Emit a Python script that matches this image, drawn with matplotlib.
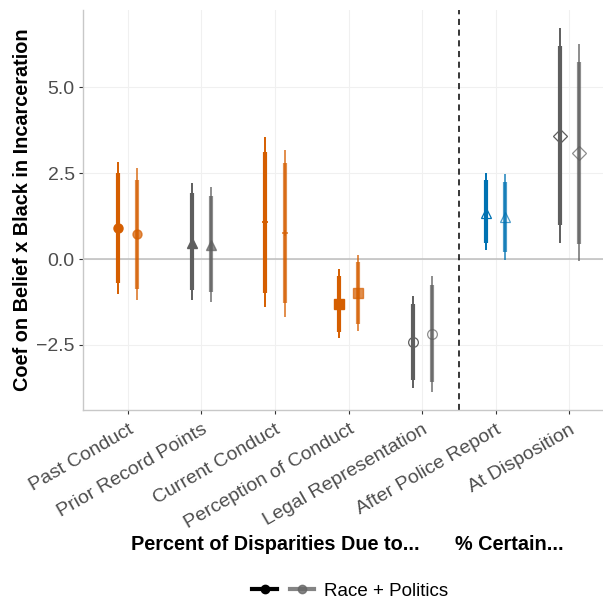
import numpy as np
import matplotlib.pyplot as plt
from matplotlib.lines import Line2D

plt.rcParams['font.family'] = ['Liberation Sans', 'DejaVu Sans']

# data
categories = ["Past Conduct", "Prior Record Points", "Current Conduct",
              "Perception of Conduct", "Legal Representation",
              "After Police Report", "At Disposition"]
base_colors = ["#D55E00", "#5E5E5E", "#D55E00", "#D55E00", "#5E5E5E",
               "#0072B2", "#5E5E5E"]
markers = ["o", "^", "+", "s", "o", "^", "D"]
filled = [True, True, True, True, False, False, False]

# left series (Race)
est_a = [0.91, 0.47, 1.08, -1.31, -2.41, 1.34, 3.58]
lo90_a = [-0.70, -0.90, -0.99, -2.12, -3.52, 0.47, 0.99]
hi90_a = [2.50, 1.92, 3.11, -0.49, -1.31, 2.30, 6.19]
lo95_a = [-1.02, -1.19, -1.40, -2.30, -3.75, 0.26, 0.47]
hi95_a = [2.82, 2.20, 3.55, -0.29, -1.08, 2.50, 6.72]

# right series (Race + Politics)
est_b = [0.73, 0.41, 0.76, -0.99, -2.18, 1.22, 3.08]
lo90_b = [-0.87, -0.96, -1.28, -1.89, -3.58, 0.20, 0.44]
hi90_b = [2.30, 1.83, 2.79, -0.09, -0.76, 2.24, 5.73]
lo95_b = [-1.19, -1.25, -1.69, -2.09, -3.87, -0.03, -0.06]
hi95_b = [2.65, 2.10, 3.17, 0.12, -0.49, 2.47, 6.25]

fig = plt.figure(figsize=(6.03, 6.02), dpi=100)
ax = fig.add_axes([83 / 603, 1 - 410 / 602, 520 / 603, 400 / 602])

x = np.arange(1, len(categories) + 1)
dodge = 0.13

ax.axhline(0, color="#BDBDBD", lw=1.1, zorder=1)
ax.axvline(5.5, color="black", lw=1.1, ls=(0, (4, 3)), zorder=1)

series = [(est_a, lo90_a, hi90_a, lo95_a, hi95_a, -dodge, 1.0),
          (est_b, lo90_b, hi90_b, lo95_b, hi95_b, dodge, 0.7)]
for est, lo90, hi90, lo95, hi95, off, alpha in series:
    for i in range(len(categories)):
        xi = x[i] + off
        c = base_colors[i]
        ax.plot([xi, xi], [lo95[i], hi95[i]], color=c, lw=1.4, alpha=alpha,
                solid_capstyle="butt", zorder=2)
        ax.plot([xi, xi], [lo90[i], hi90[i]], color=c, lw=3.0, alpha=alpha,
                solid_capstyle="butt", zorder=3)
        if markers[i] == "+":
            ax.plot(xi, est[i], marker="+", color=c, ms=5, mew=1.3,
                    alpha=alpha, zorder=4)
        elif filled[i]:
            ax.plot(xi, est[i], marker=markers[i], color=c, ms=6.5,
                    alpha=alpha, zorder=4, mec=c)
        else:
            ax.plot(xi, est[i], marker=markers[i], mfc="none", mec=c, ms=7,
                    mew=0.9, alpha=alpha, zorder=4)

ax.set_xlim(0.39, 7.46)
ax.set_ylim(-4.39, 7.24)
ax.set_yticks([-2.5, 0.0, 2.5, 5.0])
ax.set_yticklabels(["\u22122.5", "0.0", "2.5", "5.0"])
ax.set_xticks(x)
ax.set_xticklabels(categories, rotation=30, ha="right", rotation_mode="anchor")
ax.tick_params(axis="both", labelsize=14, labelcolor="#4D4D4D",
               color="#333333", length=3, width=0.8)
ax.tick_params(axis="x", pad=5)
ax.tick_params(axis="y", pad=3)

ax.grid(True, color="#F0F0F0", lw=0.8)
ax.set_axisbelow(True)
for s in ["top", "right"]:
    ax.spines[s].set_visible(False)
for s in ["left", "bottom"]:
    ax.spines[s].set_color("#C8C8C8")
    ax.spines[s].set_linewidth(1.0)

ax.set_ylabel("Coef on Belief x Black in Incarceration", fontsize=14.3,
              fontweight="bold", labelpad=3)

fig.text(275 / 603, 1 - 545 / 602, "Percent of Disparities Due to...",
         ha="center", va="center", fontsize=14.3, fontweight="bold")
fig.text(509 / 603, 1 - 545 / 602, "% Certain...",
         ha="center", va="center", fontsize=14.3, fontweight="bold")

handles = [Line2D([], [], color="black", lw=3, marker="o", ms=6),
           Line2D([], [], color="#666666", lw=3, marker="o", ms=6, alpha=0.8)]
fig.legend(handles, ["", "Race + Politics"], loc="center",
           bbox_to_anchor=(350 / 603, 1 - 591 / 602), ncol=2, frameon=False,
           fontsize=13.5, handlelength=1.3, columnspacing=0.2,
           handletextpad=0.5)

fig.savefig("out.png", dpi=100)
